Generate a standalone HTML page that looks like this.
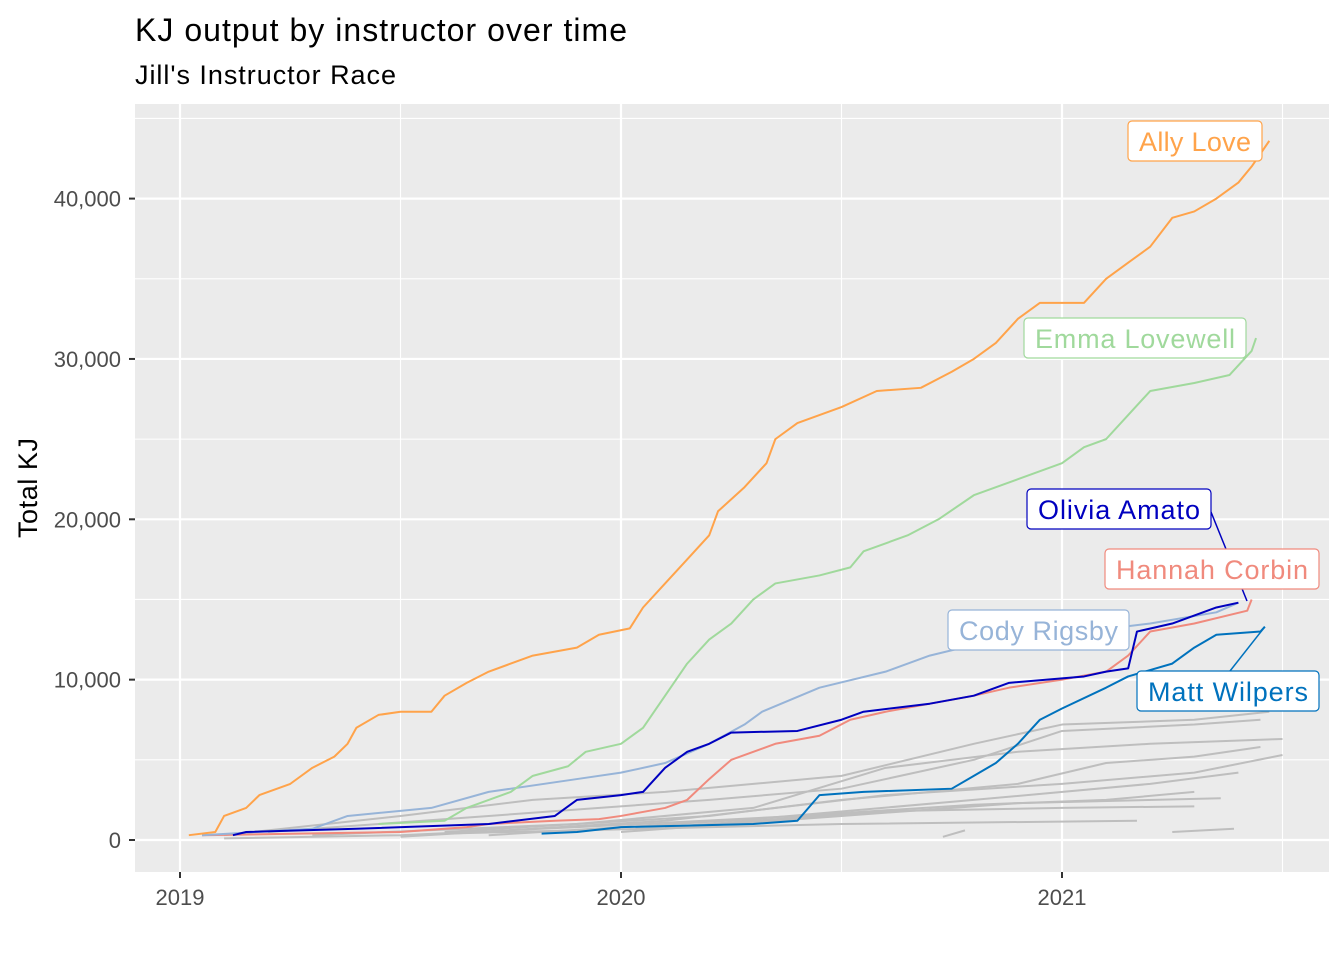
<!DOCTYPE html>
<html><head><meta charset="utf-8">
<style>
body{margin:0;background:#fff;font-family:"Liberation Sans",Arial,sans-serif}
svg{display:block}
</style></head>
<body>
<svg id="chart" width="1344" height="960" xmlns="http://www.w3.org/2000/svg">
<text x="135" y="41" font-size="32" textLength="492" fill="#000">KJ output by instructor over time</text>
<text x="135" y="84" font-size="27" textLength="261" fill="#000">Jill's Instructor Race</text>
<rect x="135" y="104" width="1194" height="768" fill="#ebebeb"/>
<g id="grid"></g>
<g id="series"></g>
<g id="labels"></g>
<g id="axes"></g>
<text transform="translate(37,488) rotate(-90)" text-anchor="middle" font-size="27" textLength="100" fill="#000">Total KJ</text>
</svg>
<script>
const xTicks=[2019,2020,2021];
const yTicks=[0,10000,20000,30000,40000];
const yTickLabels=["0","10,000","20,000","30,000","40,000"];
const allyX=[2019.02,2019.08,2019.1,2019.15,2019.18,2019.25,2019.3,2019.35,2019.38,2019.4,2019.45,2019.5,2019.57,2019.6,2019.65,2019.7,2019.75,2019.8,2019.9,2019.95,2020.02,2020.05,2020.1,2020.15,2020.2,2020.22,2020.28,2020.33,2020.35,2020.4,2020.45,2020.5,2020.58,2020.68,2020.75,2020.8,2020.85,2020.9,2020.95,2021.05,2021.1,2021.15,2021.2,2021.25,2021.3,2021.35,2021.4,2021.43,2021.47];
const allyY=[0.3,0.5,1.5,2,2.8,3.5,4.5,5.2,6,7,7.8,8,8,9,9.8,10.5,11,11.5,12,12.8,13.2,14.5,16,17.5,19,20.5,22,23.5,25,26,26.5,27,28,28.2,29.2,30,31,32.5,33.5,33.5,35,36,37,38.8,39.2,40,41,42,43.6];
const emmaX=[2019.45,2019.6,2019.65,2019.75,2019.8,2019.88,2019.92,2020.0,2020.05,2020.1,2020.15,2020.2,2020.25,2020.3,2020.35,2020.45,2020.52,2020.55,2020.65,2020.72,2020.8,2020.9,2021.0,2021.05,2021.1,2021.15,2021.2,2021.3,2021.38,2021.43,2021.44];
const emmaY=[1,1.2,2,3,4,4.6,5.5,6,7,9,11,12.5,13.5,15,16,16.5,17,18,19,20,21.5,22.5,23.5,24.5,25,26.5,28,28.5,29,30.5,31.3];
const codyX=[2019.05,2019.3,2019.38,2019.57,2019.7,2019.9,2020.0,2020.1,2020.2,2020.28,2020.32,2020.45,2020.6,2020.7,2020.85,2021.05,2021.2,2021.35,2021.4];
const codyY=[0.3,0.7,1.5,2,3,3.8,4.2,4.8,6,7.2,8,9.5,10.5,11.5,12.5,13,13.5,14.2,14.8];
const hannahX=[2019.05,2019.5,2019.65,2019.7,2019.85,2019.95,2020.0,2020.1,2020.15,2020.2,2020.25,2020.35,2020.45,2020.52,2020.6,2020.8,2020.88,2021.0,2021.1,2021.15,2021.2,2021.3,2021.42,2021.43];
const hannahY=[0.3,0.5,0.8,1,1.2,1.3,1.5,2,2.5,3.8,5,6,6.5,7.5,8,9,9.5,10,10.5,11.5,13,13.5,14.3,15];
const oliviaX=[2019.12,2019.15,2019.4,2019.7,2019.85,2019.9,2020.0,2020.05,2020.1,2020.15,2020.2,2020.25,2020.4,2020.5,2020.55,2020.7,2020.8,2020.88,2021.05,2021.1,2021.15,2021.17,2021.25,2021.35,2021.4];
const oliviaY=[0.3,0.5,0.7,1,1.5,2.5,2.8,3,4.5,5.5,6,6.7,6.8,7.5,8,8.5,9,9.8,10.2,10.5,10.7,13,13.5,14.5,14.8];
const mattX=[2019.82,2019.9,2020.0,2020.3,2020.4,2020.45,2020.55,2020.75,2020.8,2020.85,2020.9,2020.95,2021.0,2021.1,2021.15,2021.25,2021.3,2021.35,2021.45,2021.46];
const mattY=[0.4,0.5,0.8,1,1.2,2.8,3,3.2,4,4.8,6,7.5,8.2,9.5,10.2,11,12,12.8,13,13.3];
const grayX=[[2019.1,2019.5,2019.8,2020.1,2020.5,2020.8,2021.0,2021.3,2021.47],[2019.2,2019.7,2020.2,2020.5,2020.8,2021.0,2021.3,2021.45],[2019.3,2019.9,2020.3,2020.6,2020.9,2021.2,2021.5],[2019.6,2020.2,2020.5,2020.9,2021.1,2021.3,2021.45],[2019.5,2020.1,2020.6,2021.0,2021.3,2021.5],[2019.7,2020.3,2020.8,2021.2,2021.4],[2020.0,2020.5,2020.9,2021.36],[2020.1,2020.6,2021.0,2021.3],[2019.6,2020.5,2021.17],[2020.73,2020.78],[2021.25,2021.39],[2019.1,2019.5,2019.9,2020.4,2020.8,2021.1,2021.3]];
const grayY=[[0.3,1.5,2.5,3,4,6,7.2,7.5,8],[0.5,1.5,2.5,3.2,5,6.8,7.2,7.5],[0.3,1,2,4.5,5.5,6,6.3],[0.5,1.5,2.5,3.5,4.8,5.2,5.8],[0.2,1.2,2.8,3.5,4.2,5.3],[0.3,1.3,2.5,3.5,4.2],[0.5,1.5,2.3,2.6],[0.8,1.8,2.0,2.1],[0.4,1.0,1.2],[0.2,0.6],[0.5,0.7],[0.1,0.3,0.8,1.5,2.2,2.5,3]];

const NS="http://www.w3.org/2000/svg";
const xs=v=>180+(v-2019)*441;
const ys=v=>840-v*0.016035;
function mk(tag,attrs,parent){const e=document.createElementNS(NS,tag);for(const k in attrs)e.setAttribute(k,attrs[k]);parent.appendChild(e);return e;}
const grid=document.getElementById('grid'),series=document.getElementById('series'),labels=document.getElementById('labels'),axes=document.getElementById('axes');
for(let i=0;i<xTicks.length;i++){const x=xs(xTicks[i]+0.5);if(x<1329){const l=mk('line',{x1:x,x2:x,y1:104,y2:872,stroke:'#fff','stroke-width':1.1},grid);}}
for(let i=0;i<yTicks.length;i++){const y=ys(yTicks[i]+5000);if(y>104){const l=mk('line',{x1:135,x2:1329,y1:y,y2:y,stroke:'#fff','stroke-width':1.1},grid);}}
for(let i=0;i<xTicks.length;i++){const x=xs(xTicks[i]);const l=mk('line',{x1:x,x2:x,y1:104,y2:872,stroke:'#fff','stroke-width':2.2},grid);
const t=mk('line',{x1:x,x2:x,y1:872,y2:878,stroke:'#333','stroke-width':2},axes);
const tx=mk('text',{x:x,y:905,'text-anchor':'middle','font-size':22,fill:'#4d4d4d'},axes);tx.textContent=xTicks[i];}
for(let i=0;i<yTicks.length;i++){const y=ys(yTicks[i]);const l=mk('line',{x1:135,x2:1329,y1:y,y2:y,stroke:'#fff','stroke-width':2.2},grid);
const t=mk('line',{x1:129,x2:135,y1:y,y2:y,stroke:'#333','stroke-width':2},axes);
const tx=mk('text',{x:121,y:y+8,'text-anchor':'end','font-size':22,fill:'#4d4d4d'},axes);tx.textContent=yTickLabels[i];}
function linePath(X,Y){let d='M'+xs(X[0])+','+ys(Y[0]*1000);for(let i=1;i<X.length;i++){d+=' L'+xs(X[i])+','+ys(Y[i]*1000);}return d;}
function line(X,Y,color,w,name){const p=mk('path',{d:linePath(X,Y),fill:'none',stroke:color,'stroke-width':w,'stroke-linejoin':'round'},series);return p;}
for(let i=0;i<grayX.length;i++){line(grayX[i],grayY[i],'#bebebe',2,'other-instructor-line');}
line(mattX,mattY,'#0072bd',2,'matt-wilpers-line');
line(hannahX,hannahY,'#f08a7d',2,'hannah-corbin-line');
line(codyX,codyY,'#97b4d8',2,'cody-rigsby-line');
line(emmaX,emmaY,'#a0d99c',2,'emma-lovewell-line');
line(oliviaX,oliviaY,'#0000bf',2,'olivia-amato-line');
line(allyX,allyY,'#ffa34a',2,'ally-love-line');
{const c=mk('line',{x1:1211,y1:512,x2:1247,y2:601,stroke:'#0000bf','stroke-width':1.5},labels);}
{const c=mk('line',{x1:1230,y1:671,x2:xs(mattX[mattX.length-1]),y2:ys(mattY[mattY.length-1]*1000),stroke:'#0072bd','stroke-width':1.5},labels);}
const labs=[["Ally Love",1128,121,134,'#ffa34a','ally-love-label'],["Emma Lovewell",1024,318,222,'#a0d99c','emma-lovewell-label'],["Olivia Amato",1027,489,184,'#0000bf','olivia-amato-label'],["Hannah Corbin",1105,549,214,'#f08a7d','hannah-corbin-label'],["Cody Rigsby",948,610,181,'#97b4d8','cody-rigsby-label'],["Matt Wilpers",1137,671,182,'#0072bd','matt-wilpers-label']];
for(const L of labs){const g=mk('g',{},labels);
mk('rect',{x:L[1],y:L[2],width:L[3],height:40,rx:4,fill:'#fff',stroke:L[4],'stroke-width':1.2},g);
const t=mk('text',{x:L[1]+L[3]/2,y:L[2]+30,'text-anchor':'middle','font-size':27,textLength:L[3]-22,fill:L[4]},g);t.textContent=L[0];}
</script>
</body></html>
